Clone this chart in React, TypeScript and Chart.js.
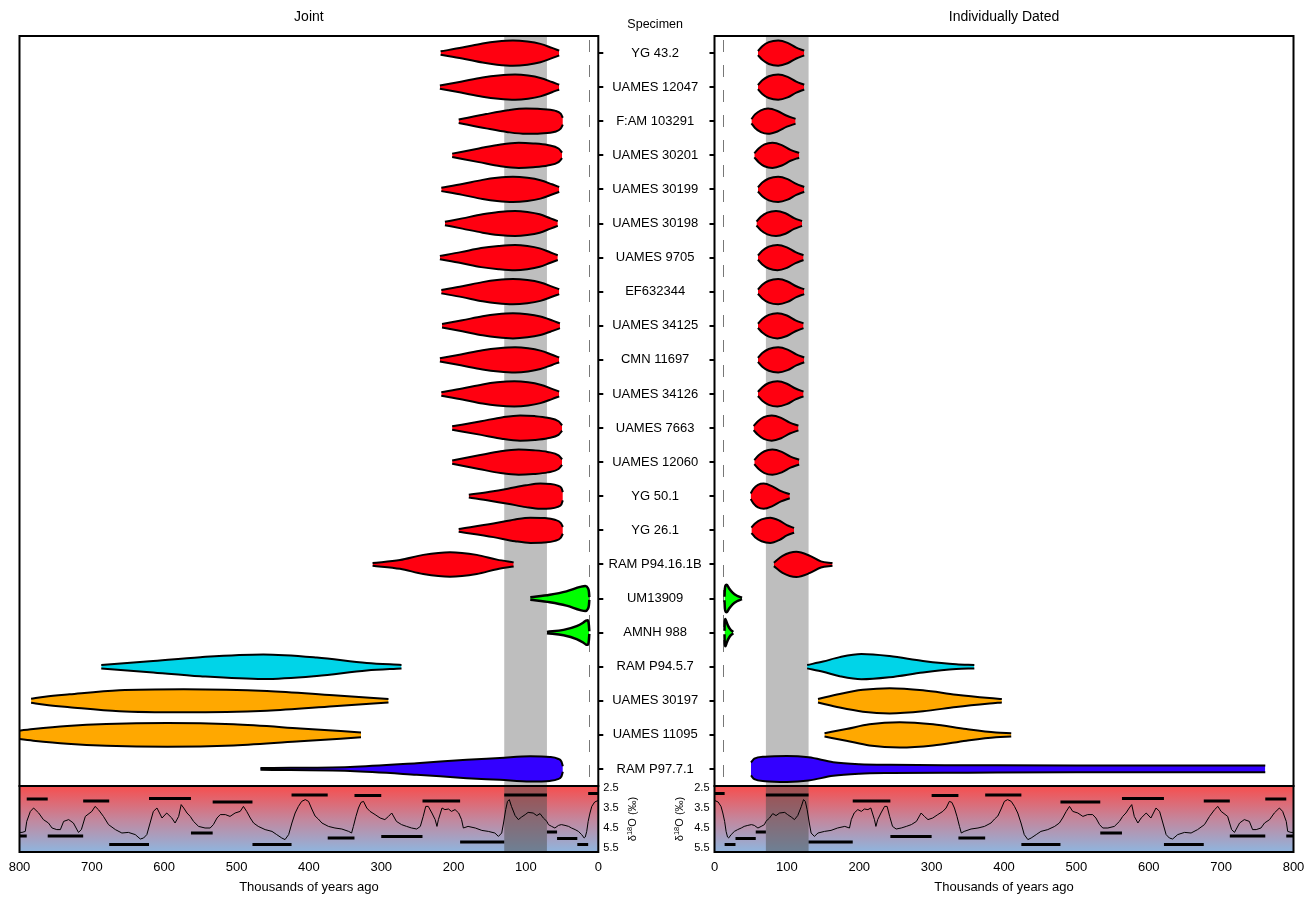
import React, { useEffect, useRef } from 'react';
import { Chart, registerables } from 'chart.js';

Chart.register(...registerables);

const FONT = '"Liberation Sans", Arial, Helvetica, sans-serif';

// ---------- Categories ----------
const SPECIMENS = [
  'YG 43.2', 'UAMES 12047', 'F:AM 103291', 'UAMES 30201', 'UAMES 30199', 'UAMES 30198',
  'UAMES 9705', 'EF632344', 'UAMES 34125', 'CMN 11697', 'UAMES 34126', 'UAMES 7663',
  'UAMES 12060', 'YG 50.1', 'YG 26.1', 'RAM P94.16.1B', 'UM13909', 'AMNH 988',
  'RAM P94.5.7', 'UAMES 30197', 'UAMES 11095', 'RAM P97.7.1',
];

const VIOLIN_COLORS = [
  '#ff0010', '#ff0010', '#ff0010', '#ff0010', '#ff0010', '#ff0010', '#ff0010', '#ff0010',
  '#ff0010', '#ff0010', '#ff0010', '#ff0010', '#ff0010', '#ff0010', '#ff0010', '#ff0010',
  '#00ff00', '#00ff00', '#00d4e8', '#ffa800', '#ffa800', '#3300ff',
];

// ---------- Violin profiles: [age (ka), half-width (rows)] ----------
const JOINT_PROFILES = [
  [[54, 0.07], [64, 0.15], [80, 0.27], [98, 0.34], [118, 0.37], [140, 0.34], [160, 0.28], [188, 0.16], [218, 0.05]],
  [[54, 0.07], [64, 0.15], [80, 0.27], [97, 0.34], [115, 0.37], [138, 0.34], [160, 0.28], [190, 0.16], [219, 0.05]],
  [[49, 0.1], [52, 0.22], [60, 0.31], [80, 0.36], [100, 0.37], [125, 0.32], [155, 0.21], [193, 0.05]],
  [[50, 0.08], [55, 0.2], [70, 0.3], [90, 0.35], [110, 0.37], [135, 0.32], [165, 0.2], [202, 0.05]],
  [[54, 0.07], [64, 0.15], [80, 0.27], [98, 0.34], [118, 0.37], [140, 0.34], [160, 0.28], [188, 0.16], [217, 0.05]],
  [[56, 0.07], [66, 0.15], [81, 0.27], [98, 0.34], [115, 0.37], [138, 0.34], [160, 0.27], [188, 0.15], [212, 0.05]],
  [[56, 0.07], [66, 0.15], [81, 0.27], [98, 0.34], [115, 0.37], [138, 0.34], [162, 0.28], [190, 0.16], [219, 0.05]],
  [[54, 0.07], [64, 0.15], [80, 0.27], [98, 0.34], [118, 0.37], [140, 0.34], [160, 0.28], [188, 0.16], [217, 0.05]],
  [[53, 0.07], [63, 0.15], [80, 0.27], [98, 0.34], [118, 0.37], [140, 0.34], [160, 0.28], [188, 0.16], [216, 0.05]],
  [[54, 0.07], [64, 0.15], [80, 0.27], [97, 0.34], [115, 0.37], [138, 0.34], [160, 0.28], [190, 0.16], [219, 0.05]],
  [[54, 0.07], [64, 0.15], [80, 0.27], [97, 0.34], [116, 0.37], [140, 0.34], [160, 0.28], [188, 0.16], [217, 0.05]],
  [[50, 0.08], [55, 0.2], [70, 0.3], [88, 0.35], [108, 0.37], [132, 0.32], [162, 0.2], [202, 0.05]],
  [[50, 0.08], [55, 0.2], [70, 0.3], [90, 0.35], [110, 0.37], [135, 0.32], [165, 0.2], [202, 0.05]],
  [[49, 0.12], [51, 0.24], [56, 0.31], [66, 0.36], [80, 0.37], [100, 0.32], [125, 0.22], [150, 0.13], [179, 0.04]],
  [[49, 0.1], [52, 0.22], [60, 0.31], [75, 0.36], [94, 0.37], [115, 0.32], [145, 0.2], [193, 0.04]],
  [[117, 0.06], [140, 0.14], [168, 0.28], [205, 0.36], [242, 0.28], [274, 0.13], [312, 0.04]],
  [[12.4, 0.04], [13, 0.2], [14.5, 0.31], [18, 0.37], [25, 0.34], [44, 0.21], [67, 0.11], [94, 0.035]],
  [[12.4, 0.04], [13, 0.22], [14.5, 0.36], [17, 0.35], [21, 0.29], [30, 0.19], [48, 0.08], [71, 0.02]],
  [[272, 0.05], [320, 0.11], [389, 0.27], [463, 0.36], [550, 0.28], [620, 0.16], [687, 0.05]],
  [[290, 0.05], [366, 0.16], [458, 0.29], [573, 0.34], [662, 0.31], [731, 0.19], [765, 0.12], [784, 0.06]],
  [[328, 0.07], [412, 0.19], [504, 0.31], [596, 0.35], [680, 0.32], [734, 0.26], [781, 0.17], [810, 0.1]],
  [[49, 0.08], [51, 0.22], [56, 0.3], [67, 0.35], [94, 0.37], [136, 0.32], [182, 0.27], [251, 0.17], [343, 0.06], [467, 0.025]],
];

const INDIV_PROFILES = [
  [[60, 0.06], [66, 0.2], [75, 0.32], [88, 0.37], [101, 0.3], [113, 0.16], [124, 0.07]],
  [[60, 0.06], [66, 0.2], [75, 0.32], [88, 0.37], [101, 0.3], [113, 0.16], [124, 0.07]],
  [[51, 0.06], [56, 0.2], [64, 0.32], [74, 0.37], [87, 0.3], [100, 0.16], [112, 0.07]],
  [[55, 0.06], [61, 0.2], [69, 0.32], [80, 0.37], [93, 0.3], [105, 0.16], [117, 0.07]],
  [[60, 0.06], [66, 0.2], [75, 0.32], [88, 0.37], [101, 0.3], [113, 0.16], [124, 0.07]],
  [[58, 0.06], [64, 0.2], [73, 0.32], [85, 0.37], [98, 0.3], [110, 0.16], [121, 0.07]],
  [[60, 0.06], [66, 0.2], [75, 0.32], [87, 0.37], [100, 0.3], [112, 0.16], [123, 0.07]],
  [[60, 0.06], [66, 0.2], [75, 0.32], [88, 0.37], [101, 0.3], [113, 0.16], [124, 0.07]],
  [[60, 0.06], [66, 0.2], [75, 0.32], [87, 0.37], [100, 0.3], [112, 0.16], [123, 0.07]],
  [[60, 0.06], [66, 0.2], [75, 0.32], [88, 0.37], [101, 0.3], [113, 0.16], [124, 0.07]],
  [[60, 0.06], [66, 0.2], [75, 0.32], [87, 0.37], [100, 0.3], [112, 0.16], [123, 0.07]],
  [[54, 0.06], [60, 0.2], [68, 0.32], [79, 0.37], [92, 0.3], [104, 0.16], [116, 0.07]],
  [[55, 0.06], [61, 0.2], [69, 0.32], [80, 0.37], [93, 0.3], [105, 0.16], [117, 0.07]],
  [[50, 0.08], [54, 0.22], [60, 0.33], [68, 0.37], [80, 0.29], [92, 0.15], [104, 0.06]],
  [[51, 0.08], [56, 0.2], [65, 0.32], [77, 0.37], [90, 0.28], [100, 0.15], [110, 0.07]],
  [[82, 0.05], [94, 0.25], [113, 0.37], [132, 0.25], [147, 0.09], [163, 0.04]],
  [[13.8, 0.05], [14.3, 0.28], [15.5, 0.39], [17, 0.4], [20, 0.3], [25, 0.17], [31, 0.08], [38, 0.02]],
  [[13.8, 0.05], [14.2, 0.32], [15, 0.4], [16.5, 0.32], [19, 0.19], [22, 0.09], [26, 0.02]],
  [[128, 0.05], [150, 0.15], [173, 0.28], [203, 0.37], [242, 0.31], [288, 0.17], [334, 0.07], [359, 0.05]],
  [[143, 0.05], [173, 0.2], [205, 0.32], [242, 0.37], [288, 0.31], [334, 0.18], [380, 0.08], [397, 0.05]],
  [[152, 0.05], [182, 0.17], [214, 0.31], [256, 0.37], [302, 0.31], [348, 0.17], [389, 0.07], [410, 0.05]],
  [[50.4, 0.19], [55, 0.3], [70, 0.36], [100, 0.38], [130, 0.34], [164, 0.2], [200, 0.14], [243, 0.12], [350, 0.11], [500, 0.1], [761, 0.1]],
];

// ---------- Reference intervals ----------
const MIS5_BAND = [71, 130];
const HOLOCENE_AGE = 12.4;

// ---------- Benthic d18O stack ----------
const D18O_AGE = [
  0, 5, 9, 11.5, 14, 16, 18, 19.5, 23, 27.5, 32, 37, 41, 46, 51, 55, 60, 64.5, 69, 71, 76, 80.5, 85, 90, 97,
  101, 106, 110.5, 115, 120, 123, 125.5, 128, 131, 133.5, 138, 143, 152, 161, 170, 180, 186.5, 189, 193, 198,
  203, 207, 212, 216, 221, 223, 225.5, 230, 235, 238.5, 242, 246, 251, 258, 265, 272, 279, 285.5, 290, 295,
  301.5, 308.5, 315.5, 320, 324.5, 328, 331.5, 335, 338.5, 341, 345, 354.5, 364, 373, 382, 387, 391.5, 396,
  400.5, 405, 410, 414.5, 419, 423.5, 428, 433, 437.5, 444.5, 451, 460.5, 470, 476.5, 481, 486, 490.5, 495,
  502, 509, 515.5, 522.5, 527, 532, 536.5, 543.5, 552.5, 559.5, 564, 568.5, 573, 576.5, 580, 585, 589.5,
  596.5, 603, 610, 615, 619.5, 624, 628.5, 633, 640, 649.5, 658.5, 667.5, 677, 684, 691, 695.5, 700, 709,
  714.5, 718.5, 725.5, 732, 739, 743.5, 748.5, 755, 760, 767, 773.5, 780.5, 785, 790, 792, 796.5, 800,
];
const D18O_VAL = [
  3.12, 3.2, 3.42, 3.75, 4.17, 4.67, 4.95, 5.0, 4.83, 4.67, 4.58, 4.5, 4.42, 4.37, 4.33, 4.37, 4.5, 4.42, 4.33,
  4.17, 4.0, 3.78, 3.88, 3.75, 3.72, 3.83, 3.95, 4.08, 3.88, 3.42, 3.08, 3.17, 3.58, 4.25, 4.75, 4.92, 4.75,
  4.67, 4.62, 4.5, 4.42, 4.5, 4.08, 3.75, 3.58, 3.67, 3.55, 3.58, 3.5, 4.08, 4.42, 4.08, 3.75, 3.42, 3.42,
  3.92, 4.42, 4.55, 4.5, 4.42, 4.33, 4.17, 3.75, 3.92, 4.08, 4.0, 3.83, 3.67, 3.5, 3.17, 3.22, 3.5, 3.92,
  4.42, 4.75, 4.67, 4.55, 4.5, 4.42, 4.25, 4.05, 3.9, 3.55, 3.17, 3.08, 3.17, 3.42, 3.75, 4.25, 4.83, 5.08,
  5.0, 4.83, 4.67, 4.58, 4.42, 4.25, 4.0, 3.67, 3.42, 3.67, 3.75, 3.92, 3.83, 3.83, 4.0, 4.33, 4.5, 4.5,
  4.42, 4.17, 3.92, 3.75, 3.5, 3.33, 3.92, 4.25, 4.0, 3.75, 4.0, 3.5, 3.67, 4.25, 4.83, 5.0, 5.05, 4.83,
  4.72, 4.75, 4.58, 4.33, 3.92, 3.58, 3.42, 3.67, 3.92, 4.58, 4.72, 4.25, 4.08, 4.17, 4.58, 4.58, 4.5, 4.25,
  4.08, 3.75, 3.5, 3.67, 4.17, 4.67, 4.72, 4.72,
];

// Marine isotope stage bars: start, end, level
const STAGE_START = [0, 14, 29, 57, 71, 130, 191, 243, 300, 337, 374, 424, 478, 533, 563, 621, 676, 712, 761, 790];
const STAGE_END = [14, 29, 57, 71, 130, 191, 243, 300, 337, 374, 424, 478, 533, 563, 621, 676, 712, 761, 790, 800];
const STAGE_LEVEL = [2.78, 5.33, 5.02, 4.7, 2.85, 5.2, 3.15, 4.92, 2.88, 5.0, 2.85, 5.32, 3.2, 4.75, 3.03, 5.32, 3.15, 4.9, 3.05, 4.9];

const AGE_TICKS = [0, 100, 200, 300, 400, 500, 600, 700, 800];
const D18O_TICKS = [2.5, 3.5, 4.5, 5.5];

// ---------- Plugins ----------
const bandPlugin = {
  id: 'band',
  beforeDatasetsDraw(chart: any, _a: any, opts: any) {
    const { ctx, chartArea: a, scales } = chart;
    const x = scales.x;
    ctx.save();
    if (opts.gradient) {
      const g = ctx.createLinearGradient(0, a.top, 0, a.bottom);
      g.addColorStop(0, '#f74e4e');
      g.addColorStop(0.5, '#c4869c');
      g.addColorStop(1, '#8fb5de');
      ctx.fillStyle = g;
      ctx.fillRect(a.left, a.top, a.right - a.left, a.bottom - a.top);
    }
    const x1 = x.getPixelForValue(MIS5_BAND[0]);
    const x2 = x.getPixelForValue(MIS5_BAND[1]);
    ctx.fillStyle = opts.color;
    ctx.fillRect(Math.min(x1, x2), a.top, Math.abs(x2 - x1), a.bottom - a.top);
    if (opts.dash) {
      const hx = Math.round(x.getPixelForValue(HOLOCENE_AGE)) + 0.5;
      ctx.strokeStyle = '#777';
      ctx.lineWidth = 1;
      ctx.setLineDash([12, 13]);
      ctx.beginPath();
      ctx.moveTo(hx, a.top + 4);
      ctx.lineTo(hx, a.bottom);
      ctx.stroke();
    }
    ctx.restore();
  },
};

const framePlugin = {
  id: 'frame',
  afterDatasetsDraw(chart: any) {
    const { ctx, chartArea: a } = chart;
    ctx.save();
    ctx.strokeStyle = '#000';
    ctx.lineWidth = 2;
    ctx.strokeRect(a.left, a.top, a.right - a.left, a.bottom - a.top);
    ctx.restore();
  },
};

const textPlugin = {
  id: 'extraText',
  afterDraw(chart: any, _a: any, opts: any) {
    const { ctx } = chart;
    if (opts.specimen) {
      const ys = chart.scales.y;
      ctx.save();
      ctx.fillStyle = '#000';
      ctx.font = `12.5px ${FONT}`;
      ctx.textAlign = 'center';
      ctx.textBaseline = 'middle';
      ctx.fillText('Specimen', (ys.left + ys.right) / 2, 25);
      ctx.restore();
    }
    if (opts.d18oX !== undefined) {
      const ys = chart.scales.y;
      const cy = (ys.top + ys.bottom) / 2;
      ctx.save();
      ctx.translate(opts.d18oX, cy);
      ctx.rotate(-Math.PI / 2);
      ctx.fillStyle = '#000';
      ctx.textBaseline = 'middle';
      ctx.textAlign = 'left';
      const big = `11px ${FONT}`;
      const small = `7.5px ${FONT}`;
      ctx.font = big;
      const w1 = ctx.measureText('δ').width;
      const w3 = ctx.measureText('O (‰)').width;
      ctx.font = small;
      const w2 = ctx.measureText('18').width;
      let x0 = -(w1 + w2 + w3) / 2;
      ctx.font = big;
      ctx.fillText('δ', x0, 0);
      x0 += w1;
      ctx.font = small;
      ctx.fillText('18', x0, -3.5);
      x0 += w2;
      ctx.font = big;
      ctx.fillText('O (‰)', x0, 0);
      ctx.restore();
    }
  },
};

// ---------- Config builders ----------
function violinDatasets(profiles: number[][][]) {
  const out: any[] = [];
  profiles.forEach((prof, row) => {
    const bw = VIOLIN_COLORS[row] === '#00ff00' ? 2.5 : 2;
    out.push({
      data: prof.map(([a, w]) => ({ x: a, y: row - w })),
      borderColor: '#000', borderWidth: bw, pointRadius: 0, fill: false,
      cubicInterpolationMode: 'monotone',
    });
    out.push({
      data: prof.map(([a, w]) => ({ x: a, y: row + w })),
      borderColor: '#000', borderWidth: bw, pointRadius: 0, fill: '-1',
      backgroundColor: VIOLIN_COLORS[row], cubicInterpolationMode: 'monotone',
    });
  });
  return out;
}

function measureWidest(): number {
  const c = document.createElement('canvas').getContext('2d')!;
  c.font = `13px ${FONT}`;
  return Math.max(...SPECIMENS.map((s) => c.measureText(s).width));
}

function topConfig(isLeft: boolean): any {
  const widest = measureWidest();
  const labelPad = Math.max(1, 56.85 - widest / 2 - 5);
  return {
    type: 'line',
    data: { datasets: violinDatasets(isLeft ? JOINT_PROFILES : INDIV_PROFILES) },
    options: {
      responsive: false,
      animation: false,
      events: [],
      layout: { padding: isLeft ? { left: 19.5, top: 0, right: 0, bottom: 4 } : { left: 0, top: 0, right: 19.5, bottom: 4 } },
      plugins: {
        legend: { display: false },
        tooltip: { enabled: false },
        title: {
          display: true,
          text: isLeft ? 'Joint' : 'Individually Dated',
          fullSize: false,
          color: '#000',
          font: { size: 14, family: FONT, weight: 'normal' },
          padding: { top: 9, bottom: 10.2 },
        },
        band: { color: '#bebebe', dash: true },
        extraText: { specimen: isLeft },
      },
      scales: {
        x: { type: 'linear', min: 0, max: 800, reverse: isLeft, display: false },
        y: {
          type: 'linear',
          min: -0.5,
          max: 21.5,
          reverse: true,
          position: isLeft ? 'right' : 'left',
          afterBuildTicks: (s: any) => { s.ticks = SPECIMENS.map((_, i) => ({ value: i })); },
          afterFit: (s: any) => {
            s.width = isLeft ? 113.7 : 14.5;
            s.paddingTop = 0;
            s.paddingBottom = 0;
          },
          ticks: {
            display: isLeft,
            callback: (v: any) => SPECIMENS[v],
            color: '#000',
            font: { size: 13, family: FONT },
            crossAlign: 'center',
            padding: labelPad,
            autoSkip: false,
          },
          grid: { display: true, drawOnChartArea: false, drawTicks: true, tickLength: 5, color: '#000', lineWidth: 2 },
          border: { display: false },
        },
      },
    },
    plugins: [bandPlugin, framePlugin, textPlugin],
  };
}

function bottomConfig(isLeft: boolean): any {
  const datasets: any[] = [
    {
      data: D18O_AGE.map((a, i) => ({ x: a, y: D18O_VAL[i] })),
      borderColor: '#000', borderWidth: 1, pointRadius: 0, fill: false, tension: 0,
    },
  ];
  STAGE_START.forEach((s, i) => {
    datasets.push({
      data: [{ x: s, y: STAGE_LEVEL[i] }, { x: STAGE_END[i], y: STAGE_LEVEL[i] }],
      borderColor: '#000', borderWidth: 3, pointRadius: 0, fill: false,
    });
  });
  return {
    type: 'line',
    data: { datasets },
    options: {
      responsive: false,
      animation: false,
      events: [],
      layout: { padding: isLeft ? { left: 19.5, top: 6, right: 0, bottom: 0 } : { left: 0, top: 6, right: 19.5, bottom: 0 } },
      plugins: {
        legend: { display: false },
        tooltip: { enabled: false },
        band: { color: 'rgba(75,75,75,0.5)', dash: false, gradient: true },
        extraText: { d18oX: isLeft ? 633 : 20 },
      },
      scales: {
        x: {
          type: 'linear', min: 0, max: 800, reverse: isLeft,
          afterBuildTicks: (s: any) => { s.ticks = AGE_TICKS.map((v) => ({ value: v })); },
          afterFit: (s: any) => { s.height = 48; },
          ticks: { color: '#000', font: { size: 13, family: FONT }, padding: 8, maxRotation: 0, autoSkip: false, callback: (v: any) => String(v) },
          grid: { display: false, drawTicks: false },
          border: { display: false },
          title: { display: true, text: 'Thousands of years ago', color: '#000', font: { size: 13, family: FONT }, padding: { top: 4, bottom: 5 } },
        },
        y: {
          type: 'linear', min: 2.4, max: 5.7, reverse: true,
          position: isLeft ? 'right' : 'left',
          afterBuildTicks: (s: any) => { s.ticks = D18O_TICKS.map((v) => ({ value: v })); },
          afterFit: (s: any) => {
            s.width = isLeft ? 41.7 : 54.5;
            s.paddingTop = 0;
            s.paddingBottom = 0;
          },
          ticks: { color: '#000', font: { size: 11, family: FONT }, padding: 5, callback: (v: any) => Number(v).toFixed(1) },
          grid: { display: false, drawTicks: false },
          border: { display: false },
        },
      },
    },
    plugins: [bandPlugin, framePlugin, textPlugin],
  };
}

export default function App() {
  const tl = useRef<HTMLCanvasElement>(null);
  const tr = useRef<HTMLCanvasElement>(null);
  const bl = useRef<HTMLCanvasElement>(null);
  const br = useRef<HTMLCanvasElement>(null);

  useEffect(() => {
    Chart.defaults.font.family = FONT;
    Chart.defaults.color = '#000';
    const charts = [
      new Chart(tl.current!, topConfig(true)),
      new Chart(tr.current!, topConfig(false)),
      new Chart(bl.current!, bottomConfig(true)),
      new Chart(br.current!, bottomConfig(false)),
    ];
    return () => charts.forEach((c) => c.destroy());
  }, []);

  return (
    <div style={{ position: 'absolute', left: 0, top: 0, width: 1313, height: 900, background: '#fff', overflow: 'hidden' }}>
      <canvas ref={bl} width={640} height={120} style={{ position: 'absolute', left: 0, top: 780 }} />
      <canvas ref={br} width={653} height={120} style={{ position: 'absolute', left: 660, top: 780 }} />
      <canvas ref={tl} width={712} height={790} style={{ position: 'absolute', left: 0, top: 0 }} />
      <canvas ref={tr} width={613} height={790} style={{ position: 'absolute', left: 700, top: 0 }} />
    </div>
  );
}
